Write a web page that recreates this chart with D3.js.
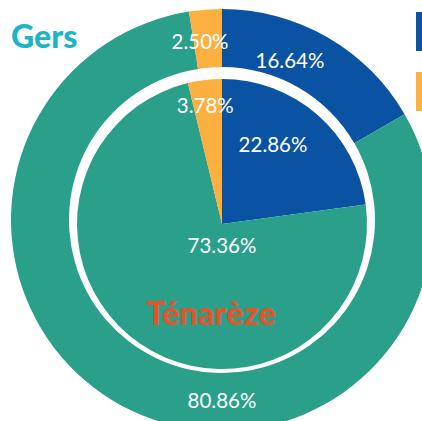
<!DOCTYPE html>
<html>
<head>
<meta charset="utf-8">
<script src="https://cdn.jsdelivr.net/npm/d3@7"></script>
<style>
  body { margin: 0; background: #fff; }
  svg { display: block; font-family: Lato, "Open Sans", sans-serif; }
</style>
</head>
<body>
<svg id="chart" width="422" height="421"></svg>
<script>
// categories in drawing order (clockwise from 12 o'clock)
var categories = ["cat1", "cat2", "cat3"];
var colors = ["#0a53a3", "#2aa08b", "#fbb040"];
// outer ring = Gers, inner pie = Ténarèze
var gersValues = [16.64, 80.86, 2.50];
var tenarezeValues = [22.86, 73.36, 3.78];
var ringTitle = "Gers";
var pieTitle = "Ténarèze";

// where each label sits: [angle in degrees from top, radius]
var gersLabelPos = [[23, 174], [180, 180], [-7, 180]];
var tenarezeLabelPos = [[32.5, 95], [180, 21], [-8, 120]];

function generateChart() {
    var svg = d3.select("#chart");

    var outerC = [222, 220];
    var innerC = [222, 224];

    var pie = d3.pie().sort(null).value(d => d);
    var color = d3.scaleOrdinal().domain(d3.range(categories.length)).range(colors);

    var ringArc = d3.arc().innerRadius(153).outerRadius(211);
    var pieArc = d3.arc().innerRadius(0).outerRadius(145);

    var ring = svg.append("g").attr("transform", "translate(" + outerC + ")");
    ring.selectAll("path")
        .data(pie(gersValues))
        .enter()
        .append("path")
        .attr("d", ringArc)
        .attr("fill", (d, i) => color(i));

    var inner = svg.append("g").attr("transform", "translate(" + innerC + ")");
    inner.selectAll("path")
        .data(pie(tenarezeValues))
        .enter()
        .append("path")
        .attr("d", pieArc)
        .attr("fill", (d, i) => color(i));

    function polar(p) {
        var a = p[0] * Math.PI / 180;
        return [Math.sin(a) * p[1], -Math.cos(a) * p[1]];
    }

    ring.selectAll("text")
        .data(gersValues)
        .enter()
        .append("text")
        .attr("x", (d, i) => polar(gersLabelPos[i])[0])
        .attr("y", (d, i) => polar(gersLabelPos[i])[1])
        .attr("text-anchor", "middle")
        .attr("dominant-baseline", "central")
        .attr("fill", "#fff")
        .attr("font-size", 20.5)
        .text(d => d.toFixed(2) + "%");

    inner.selectAll("text")
        .data(tenarezeValues)
        .enter()
        .append("text")
        .attr("x", (d, i) => polar(tenarezeLabelPos[i])[0])
        .attr("y", (d, i) => polar(tenarezeLabelPos[i])[1])
        .attr("text-anchor", "middle")
        .attr("dominant-baseline", "central")
        .attr("fill", "#fff")
        .attr("font-size", 20.5)
        .text(d => d.toFixed(2) + "%");

    // titles
    svg.append("text")
        .attr("x", 11)
        .attr("y", 48)
        .attr("fill", "#1db4c6")
        .attr("font-size", 32)
        .attr("font-weight", 900)
        .text(ringTitle);

    svg.append("text")
        .attr("x", 211)
        .attr("y", 325)
        .attr("text-anchor", "middle")
        .attr("fill", "#e0562b")
        .attr("font-size", 32.5)
        .attr("font-weight", 900)
        .text(pieTitle);

    // legend swatches (mostly off the right edge)
    svg.append("g")
        .selectAll("rect")
        .data([0, 2])
        .enter()
        .append("rect")
        .attr("x", 416)
        .attr("y", (d, i) => 12 + i * 60)
        .attr("width", 39)
        .attr("height", 39)
        .attr("fill", d => color(d));
}

generateChart();
</script>
</body>
</html>
